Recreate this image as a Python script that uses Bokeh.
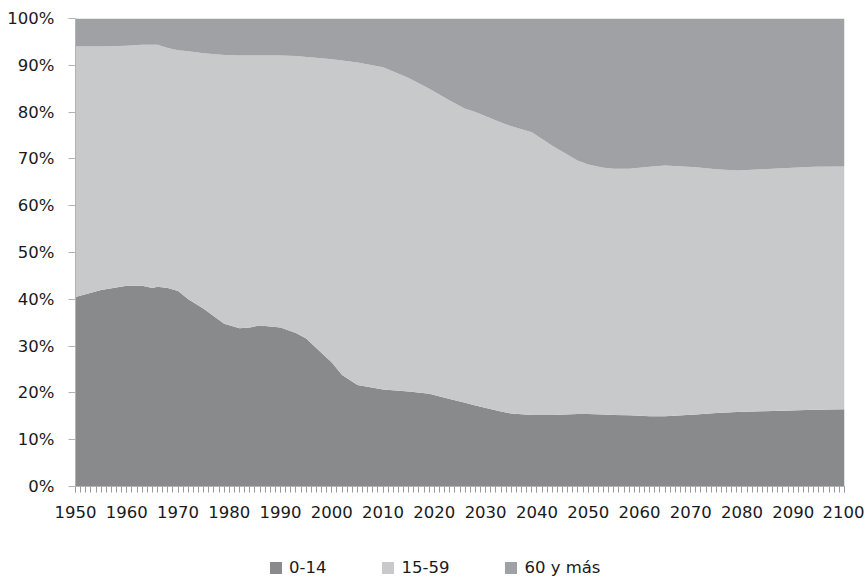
from bokeh.plotting import figure
from bokeh.layouts import column
from bokeh.models import (Range1d, SingleIntervalTicker, PrintfTickFormatter,
                          Legend, LegendItem, ColumnDataSource)
from bokeh.embed import file_html
from bokeh.resources import INLINE

years = [1950, 1955, 1960, 1963, 1965, 1966, 1968, 1970, 1972, 1975, 1979, 1982,
         1984, 1986, 1990, 1993, 1995, 1998, 2000, 2002, 2005, 2010, 2015, 2019,
         2023, 2026, 2028, 2033, 2035, 2039, 2043, 2048, 2050, 2053, 2055, 2058,
         2062, 2065, 2071, 2075, 2079, 2084, 2088, 2094, 2100]
age_0_14 = [40.5, 42.0, 42.9, 42.9, 42.4, 42.7, 42.4, 41.8, 40.0, 38.0, 34.8, 33.8,
            34.0, 34.4, 34.0, 32.8, 31.6, 28.5, 26.5, 23.8, 21.7, 20.7, 20.3, 19.8,
            18.7, 17.9, 17.3, 16.0, 15.6, 15.3, 15.3, 15.5, 15.5, 15.4, 15.3, 15.2,
            15.0, 15.0, 15.4, 15.7, 15.9, 16.1, 16.2, 16.4, 16.5]
age_15_59 = [53.5, 52.0, 51.3, 51.5, 52.0, 51.7, 51.3, 51.4, 53.0, 54.6, 57.4, 58.3,
             58.1, 57.7, 58.1, 59.2, 60.2, 63.0, 64.8, 67.2, 68.9, 68.9, 67.0, 65.2,
             63.8, 62.8, 62.7, 61.8, 61.4, 60.4, 57.5, 54.1, 53.3, 52.7, 52.6, 52.7,
             53.3, 53.6, 52.8, 52.1, 51.6, 51.7, 51.8, 51.9, 51.9]
age_60_plus = [6.0, 6.0, 5.8, 5.6, 5.6, 5.6, 6.3, 6.8, 7.0, 7.4, 7.8, 7.9,
               7.9, 7.9, 7.9, 8.0, 8.2, 8.5, 8.7, 9.0, 9.4, 10.4, 12.7, 15.0,
               17.5, 19.3, 20.0, 22.2, 23.0, 24.3, 27.2, 30.4, 31.2, 31.9, 32.1, 32.1,
               31.7, 31.4, 31.8, 32.2, 32.5, 32.2, 32.0, 31.7, 31.6]
series_names = ["0-14", "15-59", "60 y más"]
colors = ["#898a8c", "#c8c9cb", "#a0a1a5"]

FONT = "DejaVu Sans"
source = ColumnDataSource(dict(year=years, a=age_0_14, b=age_15_59, c=age_60_plus))

p = figure(frame_width=769, frame_height=468, x_range=Range1d(1950, 2100), y_range=Range1d(0, 100),
           output_backend="svg", toolbar_location=None,
           min_border_left=75, min_border_right=20, min_border_top=18, min_border_bottom=58)
p.outline_line_color = None
p.grid.visible = False

rs = p.varea_stack(["a", "b", "c"], x="year", source=source, color=colors)

axis_col = "#b3b3b3"
p.xaxis.ticker = SingleIntervalTicker(interval=10, num_minor_ticks=10)
p.xaxis.major_tick_out = 6
p.xaxis.major_tick_in = 0
p.xaxis.minor_tick_out = 6
p.xaxis.minor_tick_in = 0
p.xaxis.axis_line_color = axis_col
p.xaxis.major_tick_line_color = "#9a9a9a"
p.xaxis.minor_tick_line_color = "#9a9a9a"
p.xaxis.major_label_standoff = 13

p.yaxis.ticker = SingleIntervalTicker(interval=10, num_minor_ticks=0)
p.yaxis.formatter = PrintfTickFormatter(format="%d%%")
p.yaxis.major_tick_out = 7
p.yaxis.major_tick_in = 0
p.yaxis.minor_tick_line_color = None
p.yaxis.axis_line_color = axis_col
p.yaxis.major_tick_line_color = axis_col
p.yaxis.major_label_standoff = 14

for ax in (p.xaxis, p.yaxis):
    ax.major_label_text_font = FONT
    ax.major_label_text_font_size = "16.5px"
    ax.major_label_text_color = "#1a1a1a"

# legend strip beneath the chart
p2 = figure(width=866, height=34, x_range=p.x_range, y_range=p.y_range,
            output_backend="svg", toolbar_location=None, min_border=0,
            x_axis_type=None, y_axis_type=None)
p2.outline_line_color = None
p2.grid.visible = False
rs2 = p2.varea_stack(["a", "b", "c"], x="year", source=source, color=colors)
for r in rs2:
    r.visible = False

items = [LegendItem(label=n, renderers=[r]) for n, r in zip(series_names, rs2)]
legend = Legend(items=items, orientation="horizontal", location=(193, 1),
                glyph_width=15, glyph_height=15, label_standoff=6, spacing=54,
                padding=2, margin=0, border_line_color=None, background_fill_alpha=0,
                label_text_font=FONT, label_text_font_size="16.5px",
                label_text_color="#1a1a1a", inactive_fill_alpha=0)
p2.add_layout(legend, "center")

layout = column(p, p2, spacing=0)
open("out.html", "w").write(file_html(layout, INLINE))
